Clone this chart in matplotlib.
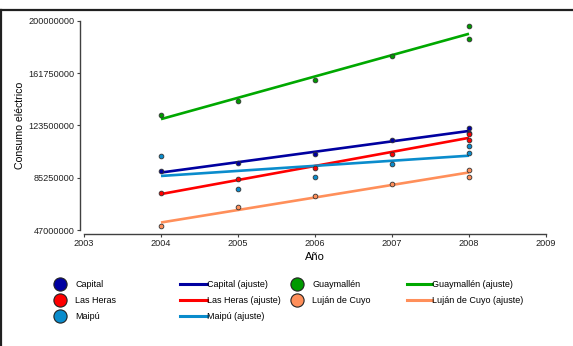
import numpy as np
from matplotlib import pyplot as plt
from matplotlib.lines import Line2D

plt.rcParams['font.family'] = ['Liberation Sans', 'DejaVu Sans']

years = [2004, 2005, 2006, 2007, 2008, 2008]
capital = [90400000, 95800000, 102400000, 112900000, 121400000, 118000000]
guaymallen = [131200000, 141700000, 156800000, 174400000, 196600000, 187000000]
las_heras = [73900000, 84100000, 92600000, 102900000, 117300000, 113100000]
lujan = [49900000, 64100000, 72100000, 80400000, 90700000, 86000000]
maipu = [101200000, 76800000, 86000000, 95500000, 108700000, 103100000]

names = ["Capital", "Guaymallén", "Las Heras", "Luján de Cuyo", "Maipú"]
series = [capital, guaymallen, las_heras, lujan, maipu]
colors = ["#0000a0", "#00a800", "#ff0000", "#ff8f5a", "#0a8ccc"]
dot_colors = ["#0000a0", "#009a00", "#ff0000", "#ff8f5a", "#0a8ccc"]

xticks = [2003, 2004, 2005, 2006, 2007, 2008, 2009]
yticks = [47000000, 85250000, 123500000, 161750000, 200000000]

W, H = 573, 346
fig = plt.figure(figsize=(W / 100, H / 100), dpi=100)
ax = fig.add_axes([84 / W, 1 - 230 / H, (546 - 84) / W, (230 - 21) / H])

fitx = np.array([2004, 2008])
for vals, c in zip(series, colors):
    k, b = np.polyfit(years, vals, 1)
    ax.plot(fitx, k * fitx + b, color=c, lw=1.9, solid_capstyle='butt', zorder=2)
for vals, c in zip(series, dot_colors):
    ax.plot(years, vals, 'o', ms=3.4, mfc=c, mec='#333333', mew=0.6, zorder=3)

ax.set_xlim(2003, 2009)
ax.set_ylim(47000000, 200000000)
ax.set_xticks(xticks)
ax.set_xticklabels([str(t) for t in xticks])
ax.set_yticks(yticks)
ax.set_yticklabels([str(t) for t in yticks])
ax.tick_params(labelsize=6.6, length=2.5, width=0.8, color='#404040', pad=1.2, labelcolor='#222222')
for s in ['top', 'right']:
    ax.spines[s].set_visible(False)
for s in ['left', 'bottom']:
    ax.spines[s].set_color('#404040')
    ax.spines[s].set_linewidth(1.0)
    ax.spines[s].set_position(('outward', 2.9))
ax.set_xlabel("Año", fontsize=8, labelpad=3)
ax.set_ylabel("Consumo eléctrico", fontsize=7.6, labelpad=2.5)

# legend, four columns placed by hand (row-major order like the original)
def pt(x, y):
    return (x / W, 1 - y / H)

def dot(c):
    return Line2D([], [], ls='', marker='o', ms=9.5, mfc=c, mec='#222222', mew=0.8)

def seg(c):
    return Line2D([], [], color=c, lw=2.2)

cols = [
    ([0, 2, 4], dot, 54, 0.95, 1.4),
    ([0, 2, 4], seg, 180, 0.0, 2.95),
    ([1, 3], dot, 291, 0.95, 1.4),
    ([1, 3], seg, 407, 0.0, 2.8),
]
for idx, maker, x0, tpad, hlen in cols:
    hs = [maker(colors[i] if maker is seg else dot_colors[i]) for i in idx]
    labs = [names[i] + (" (ajuste)" if maker is seg else "") for i in idx]
    fig.legend(hs, labs, loc='upper left', bbox_to_anchor=pt(x0, 280), frameon=False,
               fontsize=6.5, borderpad=0, borderaxespad=0, handlelength=hlen,
               handletextpad=tpad, labelspacing=0.78, handleheight=1.0)

# window frame lines
fig.add_artist(Line2D([0, 1], [1 - 9.5 / H, 1 - 9.5 / H], color='#202020', lw=1.6))
fig.add_artist(Line2D([1 / W, 1 / W], [0, 1 - 9.5 / H], color='#202020', lw=1.6))

fig.savefig("out.png", dpi=100)
